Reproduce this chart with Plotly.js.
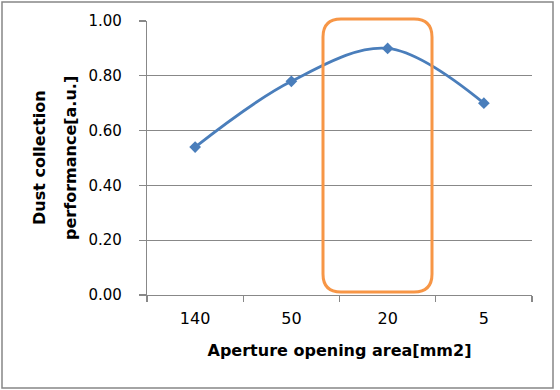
<!DOCTYPE html>
<html>
<head>
<meta charset="utf-8">
<script src="https://cdn.plot.ly/plotly-3.0.1.min.js"></script>
<style>
html,body{margin:0;padding:0;background:#fff;}
#chart{width:560px;height:390px;}
</style>
</head>
<body>
<div id="chart"></div>
<script>
const categories = ["140", "50", "20", "5"];
const performance = [0.54, 0.78, 0.90, 0.70];
const yTickVals = [0, 0.2, 0.4, 0.6, 0.8, 1.0];
const yTickText = ["0.00", "0.20", "0.40", "0.60", "0.80", "1.00"];
const xTitle = 'Aperture opening area[mm2]';
const yTitleLines = ['Dust collection', 'performance[a.u.]'];

const W = 560, H = 390;
const L = 147, R = 28, T = 21, B = 95;
const pw = W - L - R, ph = H - T - B;

function px2paperX(x){ return (x - L) / pw; }
function px2paperY(y){ return (H - B - y) / ph; }

function roundedRectPath(x0, y0, x1, y1, r){
  const X = px2paperX, Y = px2paperY;
  return [
    `M ${X(x0 + r)} ${Y(y0)}`,
    `L ${X(x1 - r)} ${Y(y0)}`,
    `Q ${X(x1)} ${Y(y0)} ${X(x1)} ${Y(y0 + r)}`,
    `L ${X(x1)} ${Y(y1 - r)}`,
    `Q ${X(x1)} ${Y(y1)} ${X(x1 - r)} ${Y(y1)}`,
    `L ${X(x0 + r)} ${Y(y1)}`,
    `Q ${X(x0)} ${Y(y1)} ${X(x0)} ${Y(y1 - r)}`,
    `L ${X(x0)} ${Y(y0 + r)}`,
    `Q ${X(x0)} ${Y(y0)} ${X(x0 + r)} ${Y(y0)}`,
    'Z'
  ].join(' ');
}

const trace = {
  x: categories,
  y: performance,
  type: 'scatter',
  mode: 'lines+markers',
  line: {color: '#4A7EBB', width: 2.8, shape: 'spline', smoothing: 1},
  marker: {symbol: 'diamond', size: 9, color: '#4A7EBB'},
  hoverinfo: 'x+y',
  showlegend: false
};

const fam = 'DejaVu Sans, Verdana, sans-serif';
const xTickFont = {family: fam, size: 16, color: '#000'};
const yTickFont = {family: fam, size: 15, color: '#000'};
const titleFont = {family: fam, size: 16, color: '#000', weight: 'bold'};

const layout = {
  width: W, height: H,
  margin: {l: L, r: R, t: T, b: B, pad: 0},
  paper_bgcolor: '#fff',
  plot_bgcolor: '#fff',
  font: {family: fam, color: '#000'},
  xaxis: {
    type: 'category',
    range: [-0.5, 3.5],
    showgrid: false,
    showline: true, linecolor: '#888', linewidth: 1.2,
    ticks: 'outside', tickson: 'boundaries', ticklen: 6, tickcolor: '#888', tickwidth: 1.2,
    tickfont: xTickFont,
    ticklabelstandoff: 9,
    title: {text: xTitle, font: titleFont, standoff: 17},
    automargin: false,
    fixedrange: true
  },
  yaxis: {
    range: [0, 1],
    tickvals: yTickVals,
    ticktext: yTickText,
    showgrid: true, gridcolor: '#888', gridwidth: 1,
    zeroline: false,
    showline: true, linecolor: '#888', linewidth: 1.2,
    ticks: 'outside', ticklen: 7, tickcolor: '#888', tickwidth: 1.2,
    tickfont: yTickFont,
    ticklabelstandoff: 14,
    automargin: false,
    fixedrange: true
  },
  annotations: [
    {text: yTitleLines[0], xref: 'paper', yref: 'paper', x: px2paperX(39), y: 0.5,
     xanchor: 'center', yanchor: 'middle', textangle: -90, showarrow: false, font: titleFont},
    {text: yTitleLines[1], xref: 'paper', yref: 'paper', x: px2paperX(70), y: 0.5,
     xanchor: 'center', yanchor: 'middle', textangle: -90, showarrow: false, font: titleFont}
  ],
  shapes: [
    {
      type: 'rect', xref: 'paper', yref: 'paper',
      x0: px2paperX(2), x1: px2paperX(553), y0: px2paperY(388), y1: px2paperY(2),
      line: {color: '#868686', width: 1.5}, layer: 'below'
    },
    {
      type: 'path', xref: 'paper', yref: 'paper',
      path: roundedRectPath(323, 19, 432, 292, 18),
      line: {color: '#F79646', width: 3}, layer: 'above'
    }
  ]
};

Plotly.newPlot('chart', [trace], layout, {displayModeBar: false, staticPlot: true});
</script>
</body>
</html>
